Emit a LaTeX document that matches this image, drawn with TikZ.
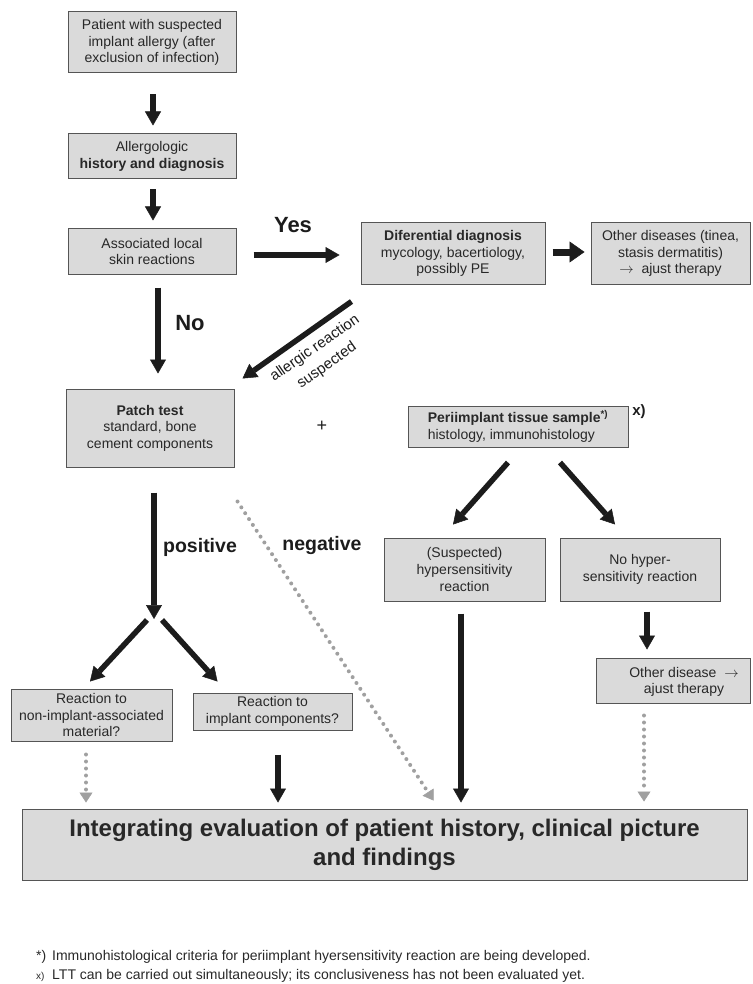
\documentclass[tikz,border=0pt]{standalone}
\usepackage{fontspec}
\setmainfont{Liberation Sans}
\usetikzlibrary{arrows.meta,calc}
\definecolor{boxfill}{RGB}{218,218,218}
\definecolor{boxline}{RGB}{85,85,85}
\definecolor{txtc}{RGB}{40,40,40}
\definecolor{arr}{RGB}{28,28,28}
\definecolor{dotg}{RGB}{160,160,160}
\begin{document}
\begin{tikzpicture}[x=1pt,y=-1pt,
  box/.style={draw=boxline, fill=boxfill, line width=1pt, inner sep=0pt, align=center, text=txtc, font=\fontsize{14}{16.6}\selectfont},
  plain/.style={inner sep=0pt, align=center, text=txtc, font=\fontsize{14}{16.6}\selectfont},
  fat/.style={draw=arr, line width=5.5pt, -{Triangle[width=16pt,length=14pt,line width=0.5pt]}},
  fatter/.style={draw=arr, line width=7pt, -{Triangle[width=21pt,length=15pt,line width=0.5pt]}},
  dotarrow/.style={draw=dotg, line width=4pt, line cap=round, dash pattern=on 0pt off 7pt, -{Triangle[width=13pt,length=10pt,line width=0.5pt,fill=dotg]}},
  biglbl/.style={inner sep=0pt, text=arr, font=\fontsize{22}{24}\selectfont\bfseries},
  midlbl/.style={inner sep=0pt, text=arr, font=\fontsize{19.5}{22}\selectfont\bfseries},
  fn/.style={inner sep=0pt, anchor=west, text=txtc, font=\fontsize{14}{16}\selectfont},
]
\useasboundingbox (0,0) rectangle (752,984);

% boxes
\node[box, minimum width=168pt, minimum height=61pt] (p1) at (152,42.5) {Patient with suspected\\implant allergy (after\\exclusion of infection)};
\node[box, minimum width=168pt, minimum height=45pt] (p2) at (152,156.5) {Allergologic\\\textbf{history and diagnosis}};
\node[box, minimum width=168pt, minimum height=45pt] (p3) at (152,251.5) {Associated local\\skin reactions};
\node[box, minimum width=184pt, minimum height=61pt] (diff) at (453,253.5) {\textbf{Diferential diagnosis}\\mycology, bacertiology,\\possibly PE};
\node[box, minimum width=159pt, minimum height=61pt] (oth) at (670.5,253.5) {Other diseases (tinea,\\stasis dermatitis)\\$\rightarrow$\ \ ajust therapy};
\node[box, minimum width=168pt, minimum height=78pt] (patch) at (150,428) {\textbf{Patch test}\\standard, bone\\cement components};
\node[box, minimum width=220pt, minimum height=41pt, align=left] (peri) at (518,426.5) {\textbf{Periimplant tissue sample\textsuperscript{*)}}\\histology, immunohistology};
\node[box, minimum width=161pt, minimum height=63pt] (susp) at (464.5,569.5) {(Suspected)\\hypersensitivity\\reaction};
\node[box, minimum width=160pt, minimum height=63pt] (nohyp) at (640,569.5) {No hyper-\\sensitivity reaction};
\node[box, minimum width=154pt, minimum height=45pt] (othd) at (673,680.5) {};
\node[plain] (othdtxt) at (684,682) {Other disease \ $\rightarrow$\\ajust therapy};
\node[box, minimum width=161pt, minimum height=52pt] (nonimp) at (91.5,715) {Reaction to\\non-implant-associated\\material?};
\node[box, minimum width=159pt, minimum height=37pt] (imp) at (272.5,711.5) {Reaction to\\implant components?};
\node[box, minimum width=725pt, minimum height=71pt, font=\fontsize{24}{29}\selectfont\bfseries] (main) at (384.5,844.5) {Integrating evaluation of patient history, clinical picture\\and findings};

% labels
\node[biglbl] (yes) at (293,225) {Yes};
\node[biglbl] (no) at (190,323) {No};
\node[midlbl] (pos) at (200,547) {positive};
\node[midlbl] (neg) at (322,545) {negative};
\node[inner sep=0pt, text=arr, font=\fontsize{18}{20}\selectfont] (plus) at (322,426) {+};
\node[inner sep=0pt, text=arr, font=\fontsize{15}{17}\selectfont\bfseries] (xmark) at (639,412) {x)};
\node[plain, rotate=35, font=\fontsize{15}{21}\selectfont, text=arr] (allerg) at (321,357) {allergic reaction\\suspected};

% connectors
\draw[fat] ([xshift=1pt,yshift=-21pt]p1.south) -- ([xshift=1pt,yshift=8pt]p2.north);
\draw[fat] ([xshift=1pt,yshift=-10pt]p2.south) -- ([xshift=1pt,yshift=8pt]p3.north);
\draw[fat] ([xshift=17pt,yshift=-3.5pt]p3.east) -- ([xshift=-21pt,yshift=-1.5pt]diff.west);
\draw[fatter] ([xshift=7pt,yshift=1.5pt]diff.east) -- ([xshift=-6pt,yshift=1.5pt]oth.west);
\draw[fat] ([xshift=6pt,yshift=-13pt]p3.south) -- ([xshift=8pt,yshift=15pt]patch.north);
\draw[fat] ([xshift=-9pt,yshift=-17pt]diff.south west) -- ([xshift=8pt,yshift=10pt]patch.north east);

\coordinate (split) at (154,619);
\draw[fat] ([xshift=4pt,yshift=-25pt]patch.south) -- (split);
\draw[fat] ([xshift=-7pt,yshift=-1pt]split) -- ([xshift=-1.5pt,yshift=7pt]nonimp.north);
\draw[fat] ([xshift=8pt,yshift=-1pt]split) -- ([xshift=25pt,yshift=11pt]imp.north west);

\draw[dotarrow] ([xshift=3pt,yshift=-34pt]patch.south east) -- ([xshift=412pt,yshift=8pt]main.north west);

\draw[fat] ([xshift=-10pt,yshift=-15pt]peri.south) -- ([xshift=-11.5pt,yshift=13pt]susp.north);
\draw[fat] ([xshift=42pt,yshift=-15pt]peri.south) -- ([xshift=-25pt,yshift=13pt]nohyp.north);

\draw[fat] ([xshift=-3.5pt,yshift=-12pt]susp.south) -- ([xshift=-3.5pt,yshift=6pt]susp.south |- main.north);
\draw[fat] ([xshift=7pt,yshift=-10pt]nohyp.south) -- ([xshift=-26pt,yshift=8pt]othd.north);
\draw[dotarrow] ([xshift=-29pt,yshift=-12pt]othd.south) -- ([xshift=-29pt,yshift=7pt]othd.south |- main.north);
\draw[dotarrow] ([xshift=-5.5pt,yshift=-13pt]nonimp.south) -- ([xshift=-5.5pt,yshift=6pt]nonimp.south |- main.north);
\draw[fat] ([xshift=5.5pt,yshift=-24pt]imp.south) -- ([xshift=5.5pt,yshift=6pt]imp.south |- main.north);

% footnotes
\node[fn] (fn1) at (36,957) {\makebox[16pt][l]{*)}Immunohistological criteria for periimplant hyersensitivity reaction are being developed.};
\node[fn] (fn2) at (36,976) {\makebox[16pt][l]{\fontsize{10}{12}\selectfont x)}LTT can be carried out simultaneously; its conclusiveness has not been evaluated yet.};
\end{tikzpicture}
\end{document}
